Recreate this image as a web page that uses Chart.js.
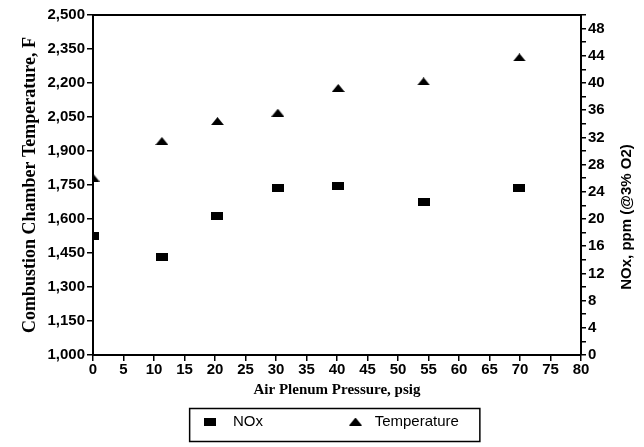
<!DOCTYPE html>
<html>
<head>
<meta charset="utf-8">
<script src="https://cdn.jsdelivr.net/npm/chart.js@4/dist/chart.umd.min.js"></script>
<style>
  html, body { margin: 0; padding: 0; background: #fff; }
  #wrap { width: 644px; height: 447px; }
</style>
</head>
<body>
<div id="wrap"><canvas id="chart"></canvas></div>
<script>
// ------------------------------------------------------------ data
const pressure    = [0, 11.3, 20.4, 30.3, 40.2, 54.2, 69.9];
const noxValues   = [17.5, 14.4, 20.5, 24.5, 24.8, 22.5, 24.6];
const tempValues  = [1783, 1944, 2032, 2069, 2178, 2207, 2313];
const seriesNames = ['NOx', 'Temperature'];
const noxTitle    = 'NOx, ppm (@3% O2)';

// ------------------------------------------------------------ markers
const rectMarker = () => {
    const c = document.createElement('canvas');
    c.width = 12; c.height = 8;
    const g = c.getContext('2d');
    g.fillStyle = '#000';
    g.fillRect(0, 0, 12, 8);
    return c;
};
const triMarker = () => {
    const c = document.createElement('canvas');
    c.width = 13; c.height = 8;
    const g = c.getContext('2d');
    g.fillStyle = '#000';
    g.beginPath();
    g.moveTo(0, 8); g.lineTo(6.5, 0); g.lineTo(13, 8);
    g.closePath();
    g.fill();
    return c;
};

const toPoints = (xs, ys) => xs.map((x, i) => ({x: x, y: ys[i]}));

// top border of plot, box around legend, right axis title (reads bottom-to-top)
const framePlugin = {
    id: 'frame',
    afterDraw(chart) {
        const ctx = chart.ctx;
        const a = chart.chartArea;
        ctx.save();
        ctx.strokeStyle = '#000';
        ctx.lineWidth = 2;
        ctx.beginPath();
        ctx.moveTo(a.left, a.top);
        ctx.lineTo(a.right, a.top);
        ctx.stroke();

        const boxes = chart.legend.legendHitBoxes;
        if (boxes && boxes.length) {
            let l = Infinity, r = -Infinity, t = Infinity, b = -Infinity;
            boxes.forEach(h => {
                l = Math.min(l, h.left); r = Math.max(r, h.left + h.width);
                t = Math.min(t, h.top);  b = Math.max(b, h.top + h.height);
            });
            ctx.lineWidth = 1.5;
            ctx.strokeRect(l - 12.5, t - 5.5, (r - l) + 33.5, (b - t) + 18);
        }

        ctx.translate(a.right + 46, (a.top + a.bottom) / 2 + 32);
        ctx.rotate(-Math.PI / 2);
        ctx.fillStyle = '#000';
        ctx.font = 'bold 15px "Liberation Sans"';
        ctx.textAlign = 'center';
        ctx.textBaseline = 'middle';
        ctx.fillText(noxTitle, 0, 0);
        ctx.restore();
    }
};

const axisGrid = { display: true, drawOnChartArea: false, drawTicks: true, tickLength: 6, color: '#000', lineWidth: 1.5 };
const axisBorder = { display: true, color: '#000', width: 2 };
const tickFont = { family: 'Liberation Sans', size: 15, weight: 'bold' };

const ctx = document.getElementById('chart').getContext('2d');
const myChart = new Chart(ctx, {
    type: 'scatter',
    data: {
        datasets: [
            {
                label: seriesNames[0],
                data: toPoints(pressure, noxValues),
                yAxisID: 'y1',
                pointStyle: rectMarker(),
                backgroundColor: '#000',
                borderColor: '#000'
            },
            {
                label: seriesNames[1],
                data: toPoints(pressure, tempValues),
                yAxisID: 'y',
                pointStyle: triMarker(),
                backgroundColor: '#000',
                borderColor: '#000'
            }
        ]
    },
    options: {
        responsive: true,
        maintainAspectRatio: false,
        animation: false,
        layout: { padding: { left: 17, right: 0, top: 15, bottom: 8 } },
        plugins: {
            tooltip: { enabled: false },
            legend: {
                position: 'bottom',
                labels: {
                    usePointStyle: true,
                    color: '#000',
                    font: { family: 'Liberation Sans', size: 15 },
                    padding: 10,
                    // spaces give the wide gap between the two entries
                    generateLabels: (chart) => chart.data.datasets.map((ds, i) => ({
                        text: i === 0 ? '  ' + ds.label + '                  ' : ' ' + ds.label,
                        pointStyle: ds.pointStyle,
                        fillStyle: '#000',
                        strokeStyle: '#000',
                        fontColor: '#000',
                        lineWidth: 0,
                        datasetIndex: i
                    }))
                }
            }
        },
        scales: {
            x: {
                type: 'linear',
                min: 0, max: 80,
                ticks: { stepSize: 5, color: '#000', font: tickFont, padding: 0, maxRotation: 0, autoSkip: false },
                grid: axisGrid,
                border: axisBorder,
                title: {
                    display: true,
                    text: 'Air Plenum Pressure, psig',
                    color: '#000',
                    font: { family: 'Liberation Serif', size: 15, weight: 'bold' },
                    padding: { top: 0, bottom: 5 }
                },
                afterFit: (scale) => { scale.height = 49; }
            },
            y: {
                position: 'left',
                min: 1000, max: 2500,
                ticks: {
                    stepSize: 150, color: '#000', font: tickFont, padding: 2,
                    callback: (v) => v.toLocaleString('en-US')
                },
                grid: axisGrid,
                border: axisBorder,
                title: {
                    display: true,
                    text: 'Combustion Chamber Temperature, F',
                    color: '#000',
                    font: { family: 'Liberation Serif', size: 18, weight: 'bold' },
                    padding: { top: 3, bottom: 3 }
                },
                afterFit: (scale) => { scale.width = 76; }
            },
            y1: {
                position: 'right',
                min: 0, max: 50,
                ticks: {
                    stepSize: 2, color: '#000', font: tickFont, padding: 2, autoSkip: false,
                    callback: (v) => (v % 4 === 0 && v <= 48) ? v : ''
                },
                grid: Object.assign({}, axisGrid, { tickLength: 5 }),
                border: axisBorder,
                title: { display: false },
                afterFit: (scale) => { scale.width = 63; }
            }
        }
    },
    plugins: [framePlugin]
});
</script>
</body>
</html>
